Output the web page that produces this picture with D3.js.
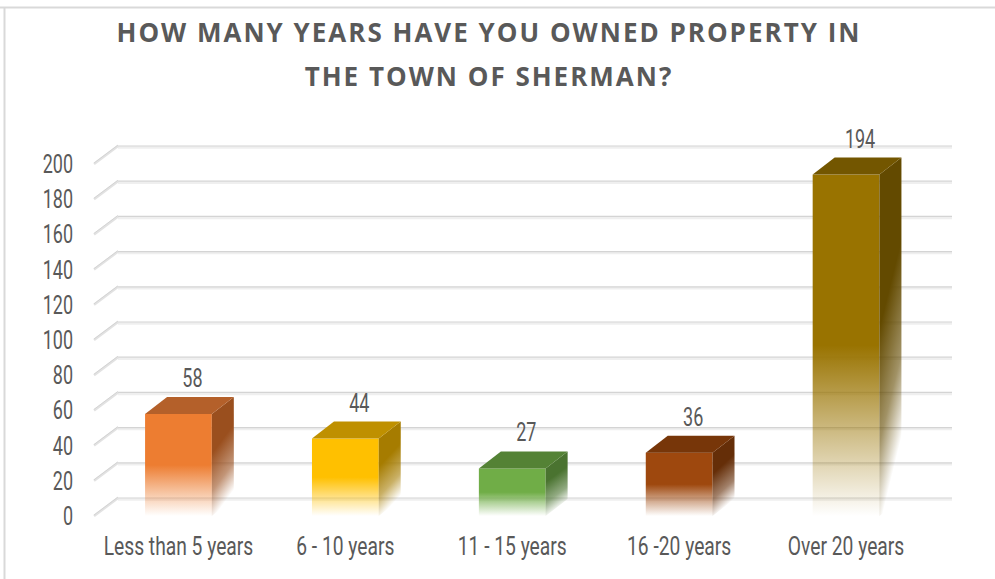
<!DOCTYPE html>
<html>
<head>
<meta charset="utf-8">
<script src="https://cdn.jsdelivr.net/npm/d3@7"></script>
<style>
  body { margin: 0; background: #fff; }
  svg { display: block; }
</style>
</head>
<body>
<svg id="chart" width="995" height="579"></svg>
<script>
const categories = ['Less than 5 years', '6 - 10 years', '11 - 15 years', '16 -20 years', 'Over 20 years'];
const values = [58, 44, 27, 36, 194];
const tickValues = [0, 20, 40, 60, 80, 100, 120, 140, 160, 180, 200];
const titleLines = ['HOW MANY YEARS HAVE YOU OWNED PROPERTY IN', 'THE TOWN OF SHERMAN?'];

// front / top / side colours per bar
const frontColors = ['#ED7D31', '#FFC000', '#70AD47', '#9E480E', '#997300'];
const topColors = ['#B4602A', '#BF9000', '#548235', '#773609', '#735600'];
const sideColors = ['#9A4F1E', '#A67C00', '#4A7330', '#652E08', '#634A00'];

const svg = d3.select('#chart');
const textColor = '#595959';

// frame lines (top and left only)
svg.append('line').attr('x1', 0).attr('x2', 995).attr('y1', 7.5).attr('y2', 7.5)
  .attr('stroke', '#d9d9d9').attr('stroke-width', 2);
svg.append('line').attr('x1', 4.5).attr('x2', 4.5).attr('y1', 7).attr('y2', 579)
  .attr('stroke', '#d9d9d9').attr('stroke-width', 2);

// title
svg.append('g').selectAll('text')
  .data(titleLines)
  .join('text')
  .attr('x', 489)
  .attr('y', (d, i) => 42 + i * 44)
  .attr('text-anchor', 'middle')
  .attr('font-family', 'Open Sans, sans-serif')
  .attr('font-weight', 'bold')
  .attr('font-size', 26)
  .attr('letter-spacing', 2)
  .attr('fill', textColor)
  .text(d => d);

const x = d3.scaleBand()
  .domain(categories)
  .range([95, 929.5])
  .paddingInner(0.6)
  .paddingOuter(0.3);

const y = d3.scaleLinear()
  .domain([0, 200])
  .range([516, 164]);

// depth of the wall and of the bars
const wall = { dx: 24, dy: 18 };
const box = { dx: 22, dy: 17 };

// gridlines: back wall + side diagonals
const grid = svg.append('g');
tickValues.forEach(t => {
  const yf = y(t), yb = y(t) - wall.dy;
  grid.append('line')
    .attr('x1', 118).attr('x2', 952).attr('y1', yb + 1.5).attr('y2', yb + 1.5)
    .attr('stroke', '#efefef').attr('stroke-width', 2.5);
  grid.append('line')
    .attr('x1', 118).attr('x2', 952).attr('y1', yb).attr('y2', yb)
    .attr('stroke', '#d4d4d4').attr('stroke-width', 1.2);
  grid.append('line')
    .attr('x1', 94).attr('x2', 118).attr('y1', yf).attr('y2', yb)
    .attr('stroke', '#e2e2e2').attr('stroke-width', 2.5);
  grid.append('line')
    .attr('x1', 94).attr('x2', 118).attr('y1', yf - 1).attr('y2', yb - 1)
    .attr('stroke', '#cfcfcf').attr('stroke-width', 0.8);
});

// condensed text helper
function condensedText(sel, fx, fy, size, anchor, sx) {
  return sel
    .attr('transform', d => `translate(${fx(d)},${fy(d)}) scale(${sx},1)`)
    .attr('text-anchor', anchor)
    .attr('font-family', 'Roboto, sans-serif')
    .attr('font-size', size)
    .attr('fill', textColor);
}

// y tick labels
condensedText(
  svg.append('g').selectAll('text').data(tickValues).join('text'),
  () => 73, d => y(d) + 9, 25, 'end', 0.72
).text(d => d);

// gradients
const defs = svg.append('defs');
const data = categories.map((c, i) => ({ c, v: values[i], i }));

data.forEach(d => {
  const gf = defs.append('linearGradient')
    .attr('id', 'front' + d.i).attr('x1', 0).attr('y1', 0).attr('x2', 0).attr('y2', 1);
  gf.append('stop').attr('offset', 0.5).attr('stop-color', frontColors[d.i]).attr('stop-opacity', 1);
  gf.append('stop').attr('offset', 0.72).attr('stop-color', frontColors[d.i]).attr('stop-opacity', 0.55);
  gf.append('stop').attr('offset', 1).attr('stop-color', frontColors[d.i]).attr('stop-opacity', 0);

  const gs = defs.append('linearGradient')
    .attr('id', 'side' + d.i).attr('x1', 0).attr('y1', 0).attr('x2', 0.25).attr('y2', 1);
  gs.append('stop').attr('offset', 0.45).attr('stop-color', sideColors[d.i]).attr('stop-opacity', 1);
  gs.append('stop').attr('offset', 0.75).attr('stop-color', sideColors[d.i]).attr('stop-opacity', 0.6);
  gs.append('stop').attr('offset', 0.97).attr('stop-color', sideColors[d.i]).attr('stop-opacity', 0);
});

// bars
const bars = svg.append('g').selectAll('g').data(data).join('g');

bars.append('rect')
  .attr('x', d => x(d.c))
  .attr('y', d => y(d.v))
  .attr('width', x.bandwidth())
  .attr('height', d => y(0) - y(d.v))
  .attr('fill', d => `url(#front${d.i})`);

bars.append('path')
  .attr('d', d => {
    const x1 = x(d.c) + x.bandwidth(), yt = y(d.v), yb = y(0);
    return `M${x1},${yt} L${x1 + box.dx},${yt - box.dy} L${x1 + box.dx},${yb - box.dy} L${x1},${yb} Z`;
  })
  .attr('fill', d => `url(#side${d.i})`);

bars.append('path')
  .attr('d', d => {
    const x0 = x(d.c), x1 = x0 + x.bandwidth(), yt = y(d.v);
    return `M${x0},${yt} L${x0 + box.dx},${yt - box.dy} L${x1 + box.dx},${yt - box.dy} L${x1},${yt} Z`;
  })
  .attr('fill', d => topColors[d.i]);

// value labels
condensedText(
  svg.append('g').selectAll('text').data(data).join('text'),
  d => x(d.c) + x.bandwidth() / 2 + box.dx / 2 + 3,
  d => y(d.v) - box.dy - 10, 25, 'middle', 0.72
).text(d => d.v);

// category labels
condensedText(
  svg.append('g').selectAll('text').data(categories).join('text'),
  d => x(d) + x.bandwidth() / 2,
  () => 555, 25, 'middle', 0.77
).text(d => d);
</script>
</body>
</html>
